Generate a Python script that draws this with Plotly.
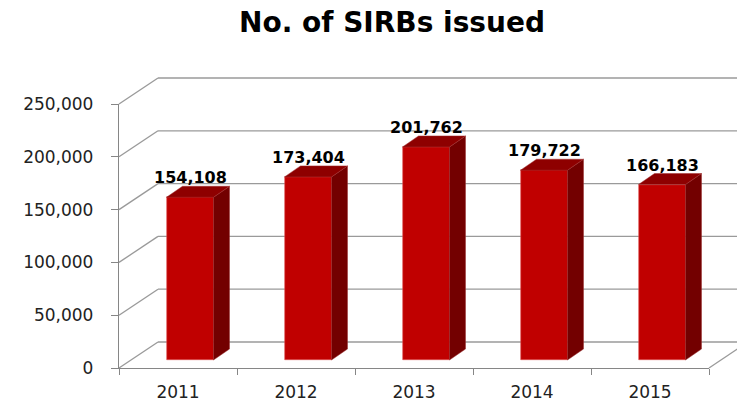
import plotly.graph_objects as go

# ---- data ----
years = ["2011", "2012", "2013", "2014", "2015"]
sirbs = [154108, 173404, 201762, 179722, 166183]
y_ticks = [0, 50000, 100000, 150000, 200000, 250000]
y_tick_text = ["0", "50,000", "100,000", "150,000", "200,000", "250,000"]
title_text = "No. of SIRBs issued"

# ---- geometry (pixels) ----
W, H = 737, 406
L, R, T, B = 119, 709, 104, 368
YMAX = 250000
n = len(years)
px_per_cat = (R - L) / n
u_per_px = YMAX / (B - T)

wall_dx, wall_dy = 39, 26      # depth of back wall
bar_dx, bar_dy = 16, 11        # depth of each bar
bar_shift_x, bar_shift_y = 12, 8
bar_w = 47

base_u = bar_shift_y * u_per_px
w_c = bar_w / px_per_cat
off_c = (bar_shift_x - bar_w / 2) / px_per_cat
dx_c = bar_dx / px_per_cat
dy_u = bar_dy * u_per_px

FRONT = "#C00000"
SIDE = "#730000"
TOP = "#8E0000"
GRID = "#9A9A9A"
AX = "#868686"

fig = go.Figure()

fig.add_trace(go.Bar(
    x=years, y=sirbs, base=[base_u] * n,
    width=[w_c] * n, offset=[off_c] * n,
    marker=dict(color=FRONT, line=dict(color="#E05050", width=0.6)),
    xaxis="x", yaxis="y", showlegend=False, hoverinfo="skip",
))

side_x, side_y, top_x, top_y = [], [], [], []
for i, v in enumerate(sirbs):
    xl = i + off_c
    xr = xl + w_c
    b = base_u
    t = base_u + v
    side_x += [xr, xr + dx_c, xr + dx_c, xr, xr, None]
    side_y += [b, b + dy_u, t + dy_u, t, b, None]
    top_x += [xl, xr, xr + dx_c, xl + dx_c, xl, None]
    top_y += [t, t, t + dy_u, t + dy_u, t, None]

fig.add_trace(go.Scatter(x=side_x, y=side_y, fill="toself", fillcolor=SIDE,
                         mode="lines", line=dict(color="#9a3030", width=0.5),
                         xaxis="x2", yaxis="y", showlegend=False, hoverinfo="skip"))
fig.add_trace(go.Scatter(x=top_x, y=top_y, fill="toself", fillcolor=TOP,
                         mode="lines", line=dict(color="#a03030", width=0.5),
                         xaxis="x2", yaxis="y", showlegend=False, hoverinfo="skip"))

# data labels
for i, v in enumerate(sirbs):
    fig.add_annotation(
        x=i + bar_shift_x / px_per_cat, y=base_u + v + dy_u,
        xref="x2", yref="y", text=f"{v:,}", showarrow=False,
        yanchor="bottom", yshift=-2, borderpad=0,
        font=dict(family="DejaVu Sans", size=16, color="#000000", weight="bold"),
    )

# back walls / grid (paper coords, not clipped)
pw, ph = R - L, B - T
wdx = wall_dx / pw
wdy = wall_dy / ph
shapes = []
for tv in y_ticks:
    yf = tv / YMAX
    shapes.append(dict(type="line", xref="paper", yref="paper",
                       x0=0, y0=yf, x1=wdx, y1=yf + wdy,
                       line=dict(color=GRID, width=1.3), layer="below"))
    shapes.append(dict(type="line", xref="paper", yref="paper",
                       x0=wdx, y0=yf + wdy, x1=(W + 20 - L) / pw, y1=yf + wdy,
                       line=dict(color=GRID, width=1.3), layer="below"))
# floor right edge
shapes.append(dict(type="line", xref="paper", yref="paper",
                   x0=1, y0=0, x1=1 + wdx, y1=wdy,
                   line=dict(color=GRID, width=1.3), layer="below"))

fig.update_layout(
    width=W, height=H,
    margin=dict(l=L, r=W - R, t=T, b=H - B, autoexpand=False),
    paper_bgcolor="white", plot_bgcolor="rgba(0,0,0,0)",
    shapes=shapes,
    title=dict(text=title_text, x=392 / W, xanchor="center",
               y=1 - 22 / H, yanchor="middle", yref="container",
               font=dict(family="DejaVu Sans", size=28, color="#000000", weight="bold")),
    xaxis=dict(type="category", categoryorder="array", categoryarray=years,
               range=[-0.5, n - 0.5], tickson="boundaries",
               showline=True, linecolor=AX, linewidth=1.3,
               ticks="outside", ticklen=6, tickcolor=AX, tickwidth=1.3,
               showgrid=False, zeroline=False, ticklabelstandoff=8,
               tickfont=dict(family="DejaVu Sans", size=17, color="#222222")),
    xaxis2=dict(overlaying="x", range=[-0.5, n - 0.5], visible=False,
                showgrid=False, zeroline=False),
    yaxis=dict(range=[0, YMAX], tickvals=y_ticks, ticktext=y_tick_text,
               showline=True, linecolor=AX, linewidth=1.3,
               ticks="outside", ticklen=7, tickcolor=AX, tickwidth=1.3,
               showgrid=False, zeroline=False, ticklabelstandoff=14,
               tickfont=dict(family="DejaVu Sans", size=17, color="#222222")),
    bargap=0,
)

fig.write_html("out.html", config={"displayModeBar": False},
               post_script="document.body.style.margin='0';document.body.style.overflow='hidden';")
